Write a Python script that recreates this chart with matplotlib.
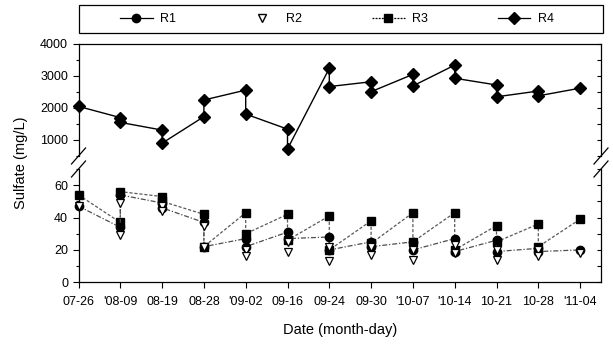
import matplotlib
matplotlib.use("Agg")
import matplotlib.pyplot as plt
from matplotlib.lines import Line2D
from matplotlib.patches import Rectangle
from matplotlib.ticker import MultipleLocator

plt.rcParams['font.family'] = ['Liberation Sans', 'DejaVu Sans']

dates = ["07-26", "'08-09", "08-19", "08-28", "'09-02", "09-16", "09-24",
         "09-30", "'10-07", "'10-14", "10-21", "10-28", "'11-04"]

# two samples per date (first, second); None = only one sample
r1_a = [47, 34, 49, 37, 27, 31, 28, 25, 25, 27, 26, 21, 20]
r1_b = [None, 54, 46, 22, 22, 27, 20, 22, 20, 19, 19, 19, None]

r2_a = [47, 29, 47, 35, 20, 25, 22, 22, 20, 23, 20, 20, 18]
r2_b = [None, 49, 44, 22, 16, 19, 13, 17, 14, 18, 14, 16, None]

r3_a = [54, 37, 53, 42, 43, 42, 41, 38, 43, 43, 35, 36, 39]
r3_b = [None, 56, 50, 22, 30, 26, 20, 24, 25, 20, 25, 22, None]

r4_a = [2050, 1700, 1310, 1730, 2560, 1340, 3240, 2820, 3050, 3340, 2720, 2530, 2620]
r4_b = [None, 1550, 900, 2250, 1810, 720, 2670, 2510, 2690, 2930, 2350, 2380, None]


def zigzag(a, b):
    xs, ys = [], []
    for i, (u, v) in enumerate(zip(a, b)):
        xs.append(i)
        ys.append(u)
        if v is not None:
            xs.append(i)
            ys.append(v)
    return xs, ys


W, H = 613, 348
fig = plt.figure(figsize=(W / 100, H / 100), dpi=100)

left, right = 78.5 / W, 601 / W
ax_top = fig.add_axes([left, 1 - 156 / H, right - left, (156 - 44) / H])
ax_bot = fig.add_axes([left, 1 - 282.3 / H, right - left, (282.3 - 169) / H])

# top panel: R4
x, y = zigzag(r4_a, r4_b)
ax_top.plot(x, y, color='black', lw=1.0, marker='D', ms=6, clip_on=False, zorder=3)
ax_top.set_ylim(500, 4000)
ax_top.set_yticks([1000, 2000, 3000, 4000])
ax_top.yaxis.set_minor_locator(MultipleLocator(500))

# bottom panel: R1, R2, R3
x, y = zigzag(r3_a, r3_b)
ax_bot.plot(x, y, color='0.35', lw=0.9, ls=(0, (2.5, 1.5)), marker='s', ms=6,
            mfc='black', mec='black', clip_on=False, zorder=3)
x, y = zigzag(r1_a, r1_b)
ax_bot.plot(x, y, color='0.3', lw=0.9, ls=(0, (4, 1.5, 1, 1.5)), marker='o', ms=6,
            mfc='black', mec='black', clip_on=False, zorder=3)
x, y = zigzag(r2_a, r2_b)
ax_bot.plot(x, y, ls='none', marker='v', ms=5.5, mfc='white', mec='black',
            mew=0.9, clip_on=False, zorder=4)
ax_bot.set_ylim(0, 70)
ax_bot.set_yticks([0, 20, 40, 60])
ax_bot.yaxis.set_minor_locator(MultipleLocator(10))

for ax in (ax_top, ax_bot):
    ax.set_xlim(0, 12.5)
    ax.tick_params(axis='y', which='major', direction='out', length=4,
                   labelsize=9, width=0.8)
    ax.tick_params(axis='y', which='minor', direction='out', length=2.5, width=0.8)
    for s in ax.spines.values():
        s.set_linewidth(0.9)
    # inward ticks on the right spine
    sec = ax.secondary_yaxis('right')
    sec.set_yticks(ax.get_yticks()[:0])
    sec.yaxis.set_minor_locator(MultipleLocator(500 if ax is ax_top else 10))
    sec.tick_params(which='minor', direction='in', length=3, width=0.8)
    sec.tick_params(which='major', length=0, labelright=False)
    sec.spines['right'].set_visible(False)

ax_top.spines['bottom'].set_visible(False)
ax_top.tick_params(axis='x', bottom=False, labelbottom=False)
ax_bot.spines['top'].set_visible(False)
ax_bot.set_xticks(range(len(dates)))
ax_bot.set_xticklabels(dates, fontsize=9)
ax_bot.tick_params(axis='x', direction='out', length=4, width=0.8, pad=6)

# axis break marks
for xc in (78.5, 601):
    for yc in (156, 169):
        fig.add_artist(Line2D([(xc - 7) / W, (xc + 7) / W],
                              [1 - (yc + 8) / H, 1 - (yc - 8) / H],
                              color='black', lw=0.9, transform=fig.transFigure))

fig.text(0.034, 1 - 163 / H, 'Sulfate (mg/L)', rotation=90, ha='center',
         va='center', fontsize=10.5)
fig.text((left + right) / 2, 1 - 330 / H, 'Date (month-day)', ha='center',
         va='center', fontsize=10.5)

# legend in a box above the plot
fig.add_artist(Rectangle((79 / W, 1 - 33 / H), (603 - 79) / W, 28 / H,
                         transform=fig.transFigure, fill=False, ec='black', lw=0.9))
handles = [
    Line2D([], [], color='black', lw=0.9, marker='o', ms=6),
    Line2D([], [], ls='none', marker='v', ms=5.5, mfc='white', mec='black'),
    Line2D([], [], color='black', lw=0.9, ls=(0, (1.5, 1)), marker='s', ms=6),
    Line2D([], [], color='black', lw=0.9, marker='D', ms=6),
]
fig.legend(handles, ['R1', 'R2', 'R3', 'R4'], loc='center',
           bbox_to_anchor=(337 / W, 1 - 19 / H), ncol=4, frameon=False,
           fontsize=9, handlelength=2.6, handletextpad=0.6, columnspacing=5.6)

fig.savefig('out.png', dpi=100)
